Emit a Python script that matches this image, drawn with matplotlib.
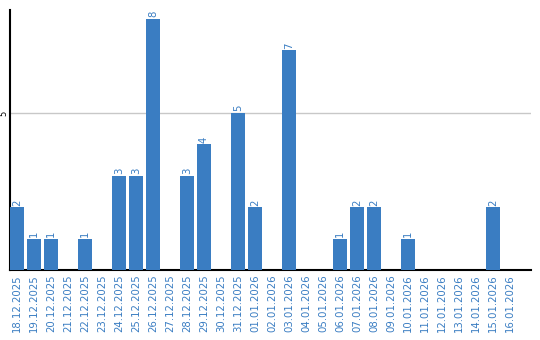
import matplotlib
matplotlib.use("Agg")
import matplotlib.pyplot as plt

dates = ["18.12.2025", "19.12.2025", "20.12.2025", "21.12.2025", "22.12.2025",
         "23.12.2025", "24.12.2025", "25.12.2025", "26.12.2025", "27.12.2025",
         "28.12.2025", "29.12.2025", "30.12.2025", "31.12.2025", "01.01.2026",
         "02.01.2026", "03.01.2026", "04.01.2026", "05.01.2026", "06.01.2026",
         "07.01.2026", "08.01.2026", "09.01.2026", "10.01.2026", "11.01.2026",
         "12.01.2026", "13.01.2026", "14.01.2026", "15.01.2026", "16.01.2026"]
counts = [2, 1, 1, 0, 1, 0, 3, 3, 8, 0, 3, 4, 0, 5, 2,
          0, 7, 0, 0, 1, 2, 2, 0, 1, 0, 0, 0, 0, 2, 0]

blue = "#3a7dc2"

fig = plt.figure(figsize=(5.4, 3.4), dpi=100)
ax = fig.add_axes([10 / 540, 70 / 340, 521 / 540, 260 / 340])

x = range(len(dates))
ax.bar(x, counts, width=0.82, color=blue, zorder=3)

for i, c in zip(x, counts):
    if c > 0:
        ax.text(i, c + 0.05, str(c), rotation=90, ha="center", va="bottom",
                color=blue, fontsize=7.3)

ax.set_xlim(-0.41, 30.24)
ax.set_ylim(0, 8.28)
ax.set_xticks(list(x))
ax.set_xticklabels(dates, rotation=90, color=blue, fontsize=7.3)
ax.set_yticks([5])
ax.set_yticklabels(["5"], rotation=90, va="center", fontsize=6)
ax.tick_params(axis="x", length=0, pad=3)
ax.tick_params(axis="y", length=0, pad=1)
ax.yaxis.grid(True, color="#c8c8c8", linewidth=1, zorder=0)

for side in ["top", "right"]:
    ax.spines[side].set_visible(False)
ax.spines["left"].set_linewidth(1.5)
ax.spines["bottom"].set_linewidth(1.5)

fig.savefig("out.png", dpi=100)
